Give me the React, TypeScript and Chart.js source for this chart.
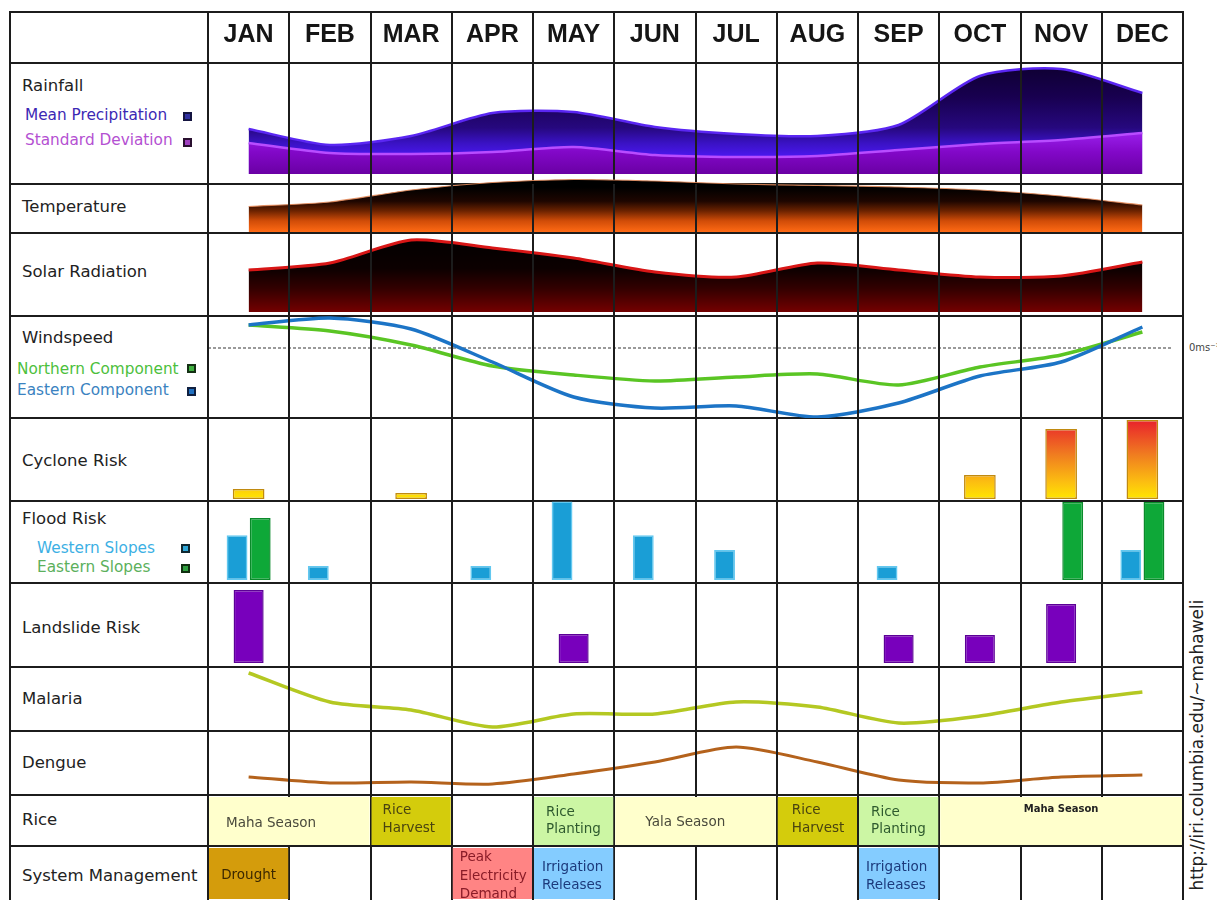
import React, { useEffect, useRef } from 'react';
import { Chart, registerables } from 'chart.js';

Chart.register(...registerables);

// ---------------- DATA ----------------
const MONTHS = ['JAN', 'FEB', 'MAR', 'APR', 'MAY', 'JUN', 'JUL', 'AUG', 'SEP', 'OCT', 'NOV', 'DEC'];

const RAIN_MEAN_MM = [135, 87, 114, 183, 186, 141, 120, 114, 147, 294, 315, 243];
const RAIN_STD_MM = [93, 63, 60, 66, 81, 57, 51, 54, 72, 90, 102, 123];
const TEMPERATURE_C = [25.7, 26.0, 26.8, 27.3, 27.5, 27.4, 27.2, 27.1, 27.0, 26.8, 26.4, 25.8];
const SOLAR_MJ = [18.4, 19.8, 24.4, 22.8, 20.8, 18.0, 17.0, 19.8, 18.4, 17.0, 17.2, 20.0];
const WIND_NORTH_MS = [2.3, 1.7, 0.3, -1.8, -2.7, -3.3, -2.9, -2.6, -3.7, -1.9, -0.7, 1.6];
const WIND_EAST_MS = [2.3, 3.0, 1.9, -1.4, -4.9, -6.0, -5.8, -6.9, -5.5, -2.8, -1.4, 2.1];
const CYCLONE_RISK = [1.0, null, 0.6, null, null, null, null, null, null, 2.4, 7.0, 7.9];
const FLOOD_WEST = [5.6, 1.75, null, 1.75, 9.8, 5.6, 3.75, null, 1.75, null, null, 3.75];
const FLOOD_EAST = [7.75, null, null, null, null, null, null, null, null, null, 9.75, 9.75];
const LANDSLIDE_RISK = [7.3, null, null, null, 2.9, null, null, null, 2.8, 2.8, 5.9, null];
const MALARIA_INDEX = [57, 28, 20, 3, 16, 16, 28, 23, 7, 14, 28, 38];
const DENGUE_INDEX = [17, 11, 12, 10, 20, 32, 47, 32, 14, 11, 17, 19];

const RICE_PHASES = ['Maha Season', 'Rice\nHarvest', 'Rice\nPlanting', 'Yala Season', 'Rice\nHarvest', 'Rice\nPlanting', 'Maha Season'];
const RICE_START = [0, 2, 4, 5, 7, 8, 9];
const RICE_END = [2, 3, 5, 7, 8, 9, 12];

const SYSTEM_EVENTS = ['Drought', 'Peak\nElectricity\nDemand', 'Irrigation\nReleases', 'Irrigation\nReleases'];
const SYSTEM_START = [0, 3, 4, 8];
const SYSTEM_END = [1, 4, 5, 9];

// ---------------- STYLE ----------------
const PLOT_LEFT = 208;
const PLOT_WIDTH = 975;
const MONTH_W = PLOT_WIDTH / 12;
const GRID = '#1c1c1c';
const SANS = '"DejaVu Sans", Verdana, sans-serif';
const H_LINES = [12, 63, 184, 233, 316, 418, 501, 583, 667, 731, 795, 846];

const SEASON_BG = '#ffffcc';
const HARVEST_BG = '#d4cc0c';
const PLANT_BG = '#ccf6a4';
const RICE_STYLE = [
  { bg: SEASON_BG, color: '#4a4a3c', align: 'left', pad: 18, dy: 2, size: 13.5, lh: 18 },
  { bg: HARVEST_BG, color: '#4a4410', align: 'left', pad: 12, dy: -2, size: 13.5, lh: 18 },
  { bg: PLANT_BG, color: '#2e5a2e', align: 'left', pad: 13, dy: -0.5, size: 13.5, lh: 17 },
  { bg: SEASON_BG, color: '#4a4a3c', align: 'left', pad: 31, dy: 1, size: 13.5, lh: 18 },
  { bg: HARVEST_BG, color: '#4a4410', align: 'left', pad: 15, dy: -2, size: 13.5, lh: 18 },
  { bg: PLANT_BG, color: '#2e5a2e', align: 'left', pad: 13, dy: -0.5, size: 13.5, lh: 17 },
  { bg: SEASON_BG, color: '#222222', align: 'center', pad: 0, dy: -12, size: 10, lh: 12, bold: true },
];
const SYSTEM_STYLE = [
  { bg: '#d49c0c', color: '#3c2800', align: 'center', pad: 0, dy: 1.5, size: 13.5, lh: 18 },
  { bg: '#ff8484', color: '#8a1c28', align: 'left', pad: 8, dy: 2.5, size: 13.5, lh: 18.5 },
  { bg: '#84ccff', color: '#1c3a7c', align: 'left', pad: 9, dy: 2.5, size: 13.5, lh: 18 },
  { bg: '#84ccff', color: '#1c3a7c', align: 'left', pad: 8, dy: 2.5, size: 13.5, lh: 18 },
];

// ---------------- HELPERS ----------------
function vGradient(stops: [number, string][]) {
  return (c: any) => {
    const chart = c.chart;
    const a = chart.chartArea;
    if (!a) return stops[stops.length - 1][1];
    const g = chart.ctx.createLinearGradient(0, a.top, 0, a.bottom);
    for (const [o, col] of stops) g.addColorStop(o, col);
    return g;
  };
}

function monthGrid(y0: number, y1: number, under: boolean) {
  const draw = (chart: any) => {
    const x = chart.scales.x;
    const ctx = chart.ctx;
    ctx.save();
    ctx.strokeStyle = GRID;
    ctx.lineWidth = 2;
    for (let k = 1; k < 12; k++) {
      const px = x.type === 'category' ? x.getPixelForValue(k - 0.5) : x.getPixelForValue(k);
      const rx = Math.round(px);
      ctx.beginPath();
      ctx.moveTo(rx, y0);
      ctx.lineTo(rx, y1);
      ctx.stroke();
    }
    ctx.restore();
  };
  return under ? { id: 'monthGrid', beforeDatasetsDraw: draw } : { id: 'monthGrid', afterDatasetsDraw: draw };
}

const zeroLine = {
  id: 'zeroLine',
  beforeDatasetsDraw(chart: any) {
    const { ctx, chartArea, scales } = chart;
    const py = Math.round(scales.y.getPixelForValue(0));
    ctx.save();
    ctx.strokeStyle = '#9a9a9a';
    ctx.lineWidth = 2;
    ctx.setLineDash([3, 2]);
    ctx.beginPath();
    ctx.moveTo(chartArea.left, py);
    ctx.lineTo(chartArea.right - 10, py);
    ctx.stroke();
    ctx.restore();
  },
};

function blockText(texts: string[], styles: any[]) {
  return {
    id: 'blockText',
    afterDatasetsDraw(chart: any) {
      const ctx = chart.ctx;
      texts.forEach((t, i) => {
        const el: any = chart.getDatasetMeta(i).data[0];
        if (!el) return;
        const left = Math.min(el.x, el.base);
        const right = Math.max(el.x, el.base);
        const st = styles[i];
        const lines = t.split('\n');
        ctx.save();
        ctx.font = `${st.bold ? 'bold ' : ''}${st.size}px ${SANS}`;
        ctx.fillStyle = st.color;
        ctx.textBaseline = 'middle';
        ctx.textAlign = st.align === 'center' ? 'center' : 'left';
        const tx = st.align === 'center' ? (left + right) / 2 : left + st.pad;
        const cy = el.y + st.dy;
        const y0 = cy - ((lines.length - 1) * st.lh) / 2;
        lines.forEach((ln, j) => ctx.fillText(ln, tx, y0 + j * st.lh));
        ctx.restore();
      });
    },
  };
}

function monthOptions(pad: [number, number], yMin: number, yMax: number) {
  return {
    animation: false,
    responsive: true,
    maintainAspectRatio: false,
    events: [],
    layout: { padding: { top: pad[0], bottom: pad[1], left: 0, right: 0 } },
    plugins: { legend: { display: false }, tooltip: { enabled: false } },
    scales: {
      x: { type: 'category', offset: true, display: false },
      y: { type: 'linear', min: yMin, max: yMax, display: false },
    },
  };
}

function blockOptions(pad: [number, number]) {
  return {
    indexAxis: 'y',
    animation: false,
    responsive: true,
    maintainAspectRatio: false,
    events: [],
    layout: { padding: { top: pad[0], bottom: pad[1], left: 0, right: 0 } },
    plugins: { legend: { display: false }, tooltip: { enabled: false } },
    scales: {
      x: { type: 'linear', min: 0, max: 12, display: false },
      y: { type: 'category', display: false },
    },
  };
}

const lineDs = (label: string, data: number[], color: string, width: number, extra: any = {}) => ({
  label, data, borderColor: color, borderWidth: width, pointRadius: 0, tension: 0.25, fill: false, clip: false, ...extra,
});

const barDs = (label: string, data: any[], bg: any, border: string, bp: number, cp: number) => ({
  label, data, backgroundColor: bg, borderColor: border, borderWidth: 1.5, borderSkipped: false,
  barPercentage: bp, categoryPercentage: cp,
});

const blockDs = (names: string[], starts: number[], ends: number[], styles: any[]) =>
  names.map((n, i) => ({
    label: n,
    data: [[starts[i], ends[i]]],
    backgroundColor: styles[i].bg,
    borderWidth: 0,
    grouped: false,
    barPercentage: 1,
    categoryPercentage: 1,
    inflateAmount: -1,
  }));

// ---------------- ROWS ----------------
type RowSpec = { key: string; top: number; height: number; grid: [number, number]; under?: boolean; config: () => any };

const ROWS: RowSpec[] = [
  {
    key: 'rain', top: 63, height: 121, grid: [0, 121],
    config: () => ({
      type: 'line',
      data: {
        labels: MONTHS,
        datasets: [
          lineDs('Standard Deviation', RAIN_STD_MM, '#b84cff', 2.5, {
            fill: 'start',
            backgroundColor: vGradient([[0, '#a030f0'], [0.62, '#9a20ec'], [0.8, '#8208c8'], [1, '#6a00a4']]),
          }),
          lineDs('Mean Precipitation', RAIN_MEAN_MM, '#5a26f2', 2.5, {
            fill: 'start',
            backgroundColor: vGradient([[0, '#0e0030'], [0.3, '#180050'], [0.58, '#26087e'], [0.72, '#3a12c4'], [0.85, '#4c18f2'], [1, '#5a20ff']]),
          }),
        ],
      },
      options: monthOptions([1, 10], 0, 330),
    }),
  },
  {
    key: 'temp', top: 176, height: 57, grid: [8, 57],
    config: () => ({
      type: 'line',
      data: {
        labels: MONTHS,
        datasets: [
          lineDs('Temperature', TEMPERATURE_C, 'rgba(232,140,90,0.85)', 1.2, {
            fill: 'start',
            backgroundColor: vGradient([[0, '#000000'], [0.2, '#000000'], [0.45, '#1e0600'], [0.62, '#6a2200'], [0.8, '#d04c08'], [1, '#ff6a14']]),
          }),
        ],
      },
      options: monthOptions([0, 1], 24, 24 + 56 / 15),
    }),
  },
  {
    key: 'solar', top: 233, height: 83, grid: [0, 83],
    config: () => ({
      type: 'line',
      data: {
        labels: MONTHS,
        datasets: [
          lineDs('Solar Radiation', SOLAR_MJ, '#d81616', 3, {
            fill: 'start',
            backgroundColor: vGradient([[0, '#000000'], [0.45, '#0c0000'], [0.7, '#320000'], [1, '#740000']]),
          }),
        ],
      },
      options: monthOptions([0, 4], 10, 25.8),
    }),
  },
  {
    key: 'wind', top: 316, height: 102, grid: [0, 102],
    config: () => ({
      type: 'line',
      data: {
        labels: MONTHS,
        datasets: [
          lineDs('Eastern Component', WIND_EAST_MS, '#1c74c6', 3.5),
          lineDs('Northern Component', WIND_NORTH_MS, '#5ac524', 3.5),
        ],
      },
      options: monthOptions([0, 0], -7.0, 3.2),
      plugins: [zeroLine],
    }),
  },
  {
    key: 'cyclone', top: 418, height: 83, grid: [0, 83],
    config: () => ({
      type: 'bar',
      data: {
        labels: MONTHS,
        datasets: [
          barDs('Cyclone Risk', CYCLONE_RISK,
            vGradient([[0, '#e81c2c'], [0.45, '#f07c20'], [0.8, '#fcc010'], [1, '#ffe600']]),
            '#c08a10', 0.39, 1),
        ],
      },
      options: monthOptions([0, 2], 0, 8.1),
    }),
  },
  {
    key: 'flood', top: 501, height: 82, grid: [0, 82],
    config: () => ({
      type: 'bar',
      data: {
        labels: MONTHS,
        datasets: [
          barDs('Western Slopes', FLOOD_WEST, '#1a9ed6', '#62c8f0', 0.9, 0.57),
          barDs('Eastern Slopes', FLOOD_EAST, '#0ea838', '#0a8a2a', 0.9, 0.57),
        ],
      },
      options: monthOptions([0, 3], 0, 9.875),
    }),
  },
  {
    key: 'landslide', top: 583, height: 84, grid: [0, 84],
    config: () => ({
      type: 'bar',
      data: {
        labels: MONTHS,
        datasets: [barDs('Landslide Risk', LANDSLIDE_RISK, '#7800bc', '#5c0096', 0.37, 1)],
      },
      options: monthOptions([0, 4], 0, 8.0),
    }),
  },
  {
    key: 'malaria', top: 667, height: 64, grid: [0, 64],
    config: () => ({
      type: 'line',
      data: { labels: MONTHS, datasets: [lineDs('Malaria', MALARIA_INDEX, '#b4c822', 3.5)] },
      options: monthOptions([0, 1], 0, 63),
    }),
  },
  {
    key: 'dengue', top: 731, height: 64, grid: [0, 64],
    config: () => ({
      type: 'line',
      data: { labels: MONTHS, datasets: [lineDs('Dengue', DENGUE_INDEX, '#b4621c', 3)] },
      options: monthOptions([0, 1], 0, 63),
    }),
  },
  {
    key: 'rice', top: 795, height: 51, grid: [0, 51], under: true,
    config: () => ({
      type: 'bar',
      data: { labels: ['Rice'], datasets: blockDs(RICE_PHASES, RICE_START, RICE_END, RICE_STYLE) },
      options: blockOptions([1, 0]),
      plugins: [blockText(RICE_PHASES, RICE_STYLE)],
    }),
  },
  {
    key: 'system', top: 846, height: 54, grid: [0, 54], under: true,
    config: () => ({
      type: 'bar',
      data: { labels: ['System Management'], datasets: blockDs(SYSTEM_EVENTS, SYSTEM_START, SYSTEM_END, SYSTEM_STYLE) },
      options: blockOptions([1, 0]),
      plugins: [blockText(SYSTEM_EVENTS, SYSTEM_STYLE)],
    }),
  },
];

function RowChart({ spec }: { spec: RowSpec }) {
  const ref = useRef<HTMLCanvasElement>(null);
  useEffect(() => {
    if (!ref.current) return;
    const cfg = spec.config();
    cfg.plugins = [...(cfg.plugins || []), monthGrid(spec.grid[0], spec.grid[1], !!spec.under)];
    const chart = new Chart(ref.current, cfg);
    return () => chart.destroy();
  }, [spec]);
  return (
    <div style={{ position: 'absolute', left: PLOT_LEFT, top: spec.top, width: PLOT_WIDTH, height: spec.height }}>
      <canvas ref={ref} />
    </div>
  );
}

// ---------------- LABELS ----------------
const ROW_LABELS: [string, number][] = [
  ['Rainfall', 78], ['Temperature', 199], ['Solar Radiation', 264], ['Windspeed', 330],
  ['Cyclone Risk', 453], ['Flood Risk', 511], ['Landslide Risk', 620], ['Malaria', 691],
  ['Dengue', 755], ['Rice', 812], ['System Management', 868],
];

const LEGENDS = [
  { text: 'Mean Precipitation', x: 25, top: 108, color: '#3c28b4', sx: 183, sy: 112, fill: '#3030a0', edge: '#141440' },
  { text: 'Standard Deviation', x: 25, top: 133, color: '#b450d2', sx: 183, sy: 138, fill: '#a040c0', edge: '#2a1030' },
  { text: 'Northern Component', x: 17, top: 362, color: '#4cc03c', sx: 187, sy: 364, fill: '#40b040', edge: '#143014' },
  { text: 'Eastern Component', x: 17, top: 383, color: '#3a82c0', sx: 187, sy: 387, fill: '#2070c0', edge: '#102040' },
  { text: 'Western Slopes', x: 37, top: 541, color: '#3cb0e4', sx: 181, sy: 544, fill: '#30a8d8', edge: '#102830' },
  { text: 'Eastern Slopes', x: 37, top: 560, color: '#5cb05c', sx: 181, sy: 564, fill: '#30a040', edge: '#103010' },
];

export default function App() {
  const abs: any = { position: 'absolute' };
  return (
    <div style={{ position: 'absolute', left: 0, top: 0, width: 1217, height: 900, overflow: 'hidden', background: '#ffffff', fontFamily: SANS }}>
      {H_LINES.map((y) => (
        <div key={'h' + y} style={{ ...abs, left: 9, top: y - 1, width: 1175, height: 2, background: GRID }} />
      ))}
      {ROWS.map((r) => <RowChart key={r.key} spec={r} />)}
      <div style={{ ...abs, left: 9, top: 11, width: 2, height: 889, background: GRID }} />
      <div style={{ ...abs, left: 207, top: 11, width: 2, height: 889, background: GRID }} />
      <div style={{ ...abs, left: 1182, top: 11, width: 2, height: 889, background: GRID }} />
      {MONTHS.slice(1).map((m, i) => (
        <div key={'v' + m} style={{ ...abs, left: Math.round(PLOT_LEFT + (i + 1) * MONTH_W) - 1, top: 12, width: 2, height: 51, background: GRID }} />
      ))}
      {MONTHS.map((m, i) => (
        <div key={m} style={{ ...abs, left: PLOT_LEFT + i * MONTH_W, top: 19, width: MONTH_W, height: 30, lineHeight: '30px', textAlign: 'center', font: 'bold 25px "Liberation Sans", Arial, sans-serif', color: '#151515' }}>{m}</div>
      ))}
      {ROW_LABELS.map(([t, top]) => (
        <div key={t} style={{ ...abs, left: 22, top, fontSize: 16.5, lineHeight: '16.5px', color: '#222', whiteSpace: 'nowrap' }}>{t}</div>
      ))}
      {LEGENDS.map((l) => (
        <React.Fragment key={l.text}>
          <div style={{ ...abs, left: l.x, top: l.top, fontSize: 15.3, lineHeight: '15.3px', color: l.color, whiteSpace: 'nowrap' }}>{l.text}</div>
          <div style={{ ...abs, left: l.sx, top: l.sy, width: 5, height: 5, background: l.fill, border: `2px solid ${l.edge}` }} />
        </React.Fragment>
      ))}
      <div style={{ ...abs, left: 1189, top: 342, fontSize: 10, lineHeight: '12px', color: '#444', whiteSpace: 'nowrap' }}>0ms⁻¹</div>
      <div style={{ ...abs, left: 1197 - 170, top: 745 - 11, width: 340, height: 22, lineHeight: '22px', fontSize: 17, textAlign: 'center', color: '#222', whiteSpace: 'nowrap', transform: 'rotate(-90deg)' }}>
        http://iri.columbia.edu/~mahaweli
      </div>
    </div>
  );
}
